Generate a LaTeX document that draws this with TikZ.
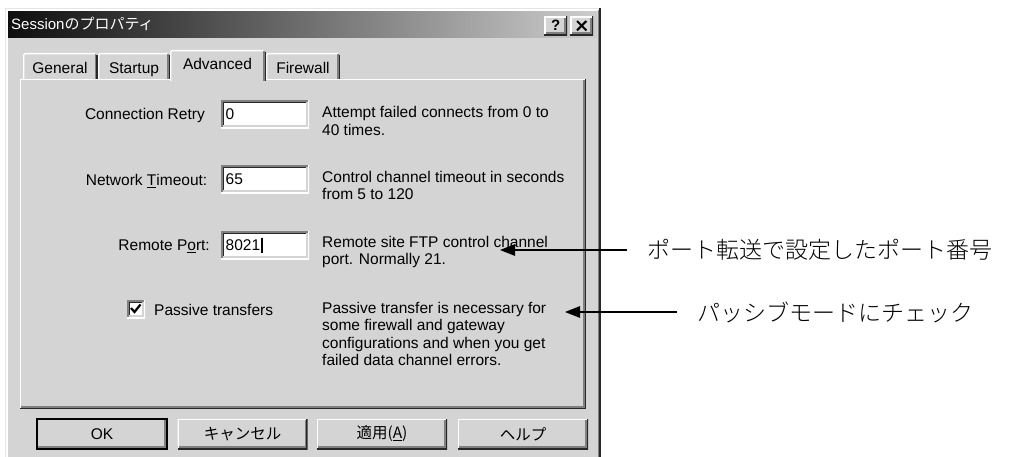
\documentclass[tikz,border=0pt]{standalone}
\usepackage{fontspec}
\setmainfont{Liberation Sans}
\newfontfamily\jp{Noto Sans CJK JP}
\newfontfamily\jpnote{Noto Sans CJK JP}[UprightFont={* Light}]
\usetikzlibrary{arrows.meta}

\definecolor{face}{RGB}{212,212,212}
\definecolor{shadow}{RGB}{128,128,128}
\definecolor{dkshadow}{RGB}{40,40,40}
\definecolor{titleL}{RGB}{14,14,14}
\definecolor{titleR}{RGB}{205,205,205}

% a notebook tab: left, top, right, bottom
\newcommand\wintab[4]{%
  \fill[face] (#1,#4) -- (#1,#2+2) -- (#1+2,#2) -- (#3-2,#2) -- (#3,#2+2) -- (#3,#4) -- cycle;
  \draw[white,line width=1.4pt] (#1+0.7,#4) -- (#1+0.7,#2+2) -- (#1+2,#2+0.7) -- (#3-2,#2+0.7);
  \draw[shadow,line width=1.4pt] (#3-2.1,#2+1.4) -- (#3-2.1,#4);
  \draw[dkshadow,line width=1.4pt] (#3-0.7,#2+2) -- (#3-0.7,#4);
}

\begin{document}
\begin{tikzpicture}[x=1pt,y=-1pt,
  bevel/.style n args={4}{path picture={
    \draw[#2,line width=1.4pt]
      ([shift={(2.1pt,-2.1pt)}]path picture bounding box.south west) --
      ([shift={(2.1pt,-2.1pt)}]path picture bounding box.north west) --
      ([shift={(2.1pt,-2.1pt)}]path picture bounding box.north east);
    \draw[#4,line width=1.4pt]
      ([shift={(-2.1pt,2.1pt)}]path picture bounding box.south west) --
      ([shift={(-2.1pt,2.1pt)}]path picture bounding box.south east) --
      ([shift={(-2.1pt,2.1pt)}]path picture bounding box.north east);
    \draw[#1,line width=2.8pt]
      (path picture bounding box.south west) --
      (path picture bounding box.north west) --
      (path picture bounding box.north east);
    \draw[#3,line width=2.8pt]
      (path picture bounding box.south west) --
      (path picture bounding box.south east) --
      (path picture bounding box.north east);
  }},
  raisedbox/.style={fill=face, bevel={white}{face}{dkshadow}{shadow}},
  sunkenbox/.style={fill=white, bevel={shadow}{dkshadow}{white}{face}},
  ui/.style={font=\fontsize{15.5}{17.5}\selectfont, inner sep=0pt, text=black},
  lbl/.style={ui, anchor=base east},
  tablbl/.style={ui, anchor=base},
  desc/.style={ui, anchor=north west, align=left},
  field/.style={ui, sunkenbox, anchor=north west, minimum height=28pt,
    text width=79pt, inner xsep=4.5pt, align=left},
  btn/.style={ui, raisedbox, minimum width=130pt, minimum height=30pt},
  note/.style={font=\jpnote\fontsize{23}{26}\selectfont, anchor=west,
    inner xsep=20pt, inner ysep=0pt},
  pointer/.style={-{Triangle[length=15pt,width=11.5pt]}, line width=1.3pt}
]
\useasboundingbox (0,0) rectangle (1009,457);
\fill[white] (0,0) rectangle (1009,457);

% dialog frame
\fill[face] (5,8) rectangle (601,457);
\draw[face!60!white,line width=1.4pt] (5.7,457) -- (5.7,8.7) -- (601,8.7);
\draw[white,line width=1.4pt] (7.1,457) -- (7.1,10.1) -- (599,10.1);
\draw[shadow,line width=1.4pt] (598.5,10) -- (598.5,457);
\draw[dkshadow,line width=1.6pt] (600.2,8) -- (600.2,457);

% caption bar
\shade[left color=titleL, right color=titleR] (8,12) rectangle (597,38);
\node[ui, text=white, anchor=base west, font=\fontsize{15}{16}\selectfont]
  (caption) at (11,30) {Session{\jp のプロパティ}};
\node[raisedbox, anchor=north west, minimum width=23pt, minimum height=19pt,
  inner sep=0pt, font=\bfseries\fontsize{15}{16}\selectfont] (helpbtn) at (544,16) {?};
\node[raisedbox, anchor=north west, minimum width=23pt, minimum height=19pt,
  inner sep=0pt] (closebtn) at (570,16) {};
\draw[line width=2pt] ([shift={(7pt,-5pt)}]closebtn.north west) -- ([shift={(-7pt,5pt)}]closebtn.south east);
\draw[line width=2pt] ([shift={(-7pt,-5pt)}]closebtn.north east) -- ([shift={(7pt,5pt)}]closebtn.south west);

% tab page
\fill[face] (20,79) rectangle (586,409);
\draw[white,line width=1.4pt] (20.7,409) -- (20.7,79.7) -- (586,79.7);
\draw[shadow,line width=1.4pt] (21,406.9) -- (583.9,406.9) -- (583.9,80);
\draw[dkshadow,line width=1.4pt] (20,408.3) -- (585.3,408.3) -- (585.3,79);

% tabs
\wintab{23}{53}{97.5}{79}
\wintab{98}{53}{170}{79}
\wintab{266}{53}{340}{79}
\wintab{170}{50}{266}{81}
\node[tablbl] (tgeneral) at (60,74) {General};
\node[tablbl] (tstartup) at (134,74) {Startup};
\node[tablbl] (tadvanced) at (217.5,70) {Advanced};
\node[tablbl] (tfirewall) at (303,74) {Firewall};

% settings
\node[lbl] (lretry) at (205,120) {Connection Retry};
\node[field] (fretry) at (221,100) {0};
\node[desc] (dretry) at (322,106.5) {Attempt failed connects from 0 to\\40 times.};

\node[lbl] (ltimeout) at (207.5,186) {Network \underline{T}imeout:};
\node[field] (ftimeout) at (221,165) {65};
\node[desc] (dtimeout) at (322,171) {Control channel timeout in seconds\\from 5 to 120};

\node[lbl] (lport) at (210,251) {Remote P\underline{o}rt:};
\node[field] (fport) at (221,231) {8021};
% text caret after the typed port number
\draw[line width=1.2pt] ([shift={(41pt,7.5pt)}]fport.west) -- ([shift={(41pt,-8pt)}]fport.west);
\node[desc] (dport) at (322,236) {Remote site FTP control channel\\port. Normally 21.};

\node[sunkenbox, anchor=north west, minimum width=18pt, minimum height=18pt,
  inner sep=0pt] (chkpasv) at (127,300) {};
\draw[line width=2.2pt] ([shift={(4pt,-8pt)}]chkpasv.north west) --
  ([shift={(7.5pt,-12pt)}]chkpasv.north west) -- ([shift={(13.5pt,-4.5pt)}]chkpasv.north west);
\node[ui, anchor=base west] (lpasv) at (154,315) {Passive transfers};
\node[desc] (dpasv) at (322,302) {Passive transfer is necessary for\\some firewall and gateway\\configurations and when you get\\failed data channel errors.};

% buttons
\node[btn, draw=black, line width=1.2pt] (bok) at (102,434) {OK};
\node[btn] (bcancel) at (242.5,434) {\jp キャンセル};
\node[btn] (bapply) at (382,434) {\jp 適用(\underline{A})};
\node[btn] (bhelp) at (523,434) {\jp ヘルプ};

% annotations
\coordinate (tipport) at (500,250);
\coordinate (tippasv) at (565,312);
\node[note] (noteport) at (627,250) {ポート転送で設定したポート番号};
\node[note] (notepasv) at (677,312) {パッシブモードにチェック};
\draw[pointer] (noteport.west) -- (tipport);
\draw[pointer] (notepasv.west) -- (tippasv);
\end{tikzpicture}
\end{document}
